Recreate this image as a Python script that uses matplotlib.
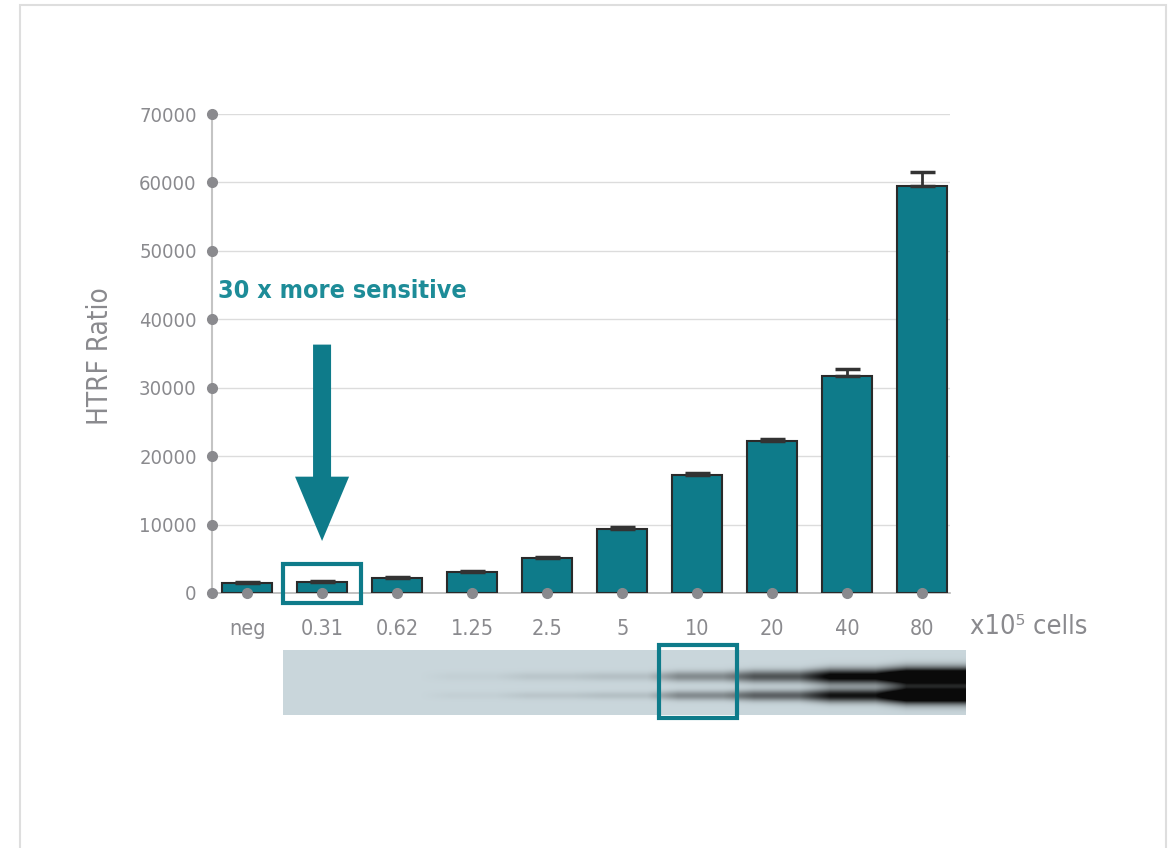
import numpy as np
import matplotlib
matplotlib.use("Agg")
import matplotlib.pyplot as plt
from matplotlib.patches import Rectangle, FancyArrow

categories = ["neg", "0.31", "0.62", "1.25", "2.5", "5", "10", "20", "40", "80"]
htrf_ratio = [1450, 1600, 2200, 3100, 5150, 9400, 17250, 22150, 31700, 59500]
htrf_err = [150, 100, 150, 100, 120, 250, 250, 300, 1000, 2000]
y_ticks = [0, 10000, 20000, 30000, 40000, 50000, 60000, 70000]

# western blot lanes (0.31 .. 80), relative band darkness
gel_lanes = ["0.31", "0.62", "1.25", "2.5", "5", "10", "20", "40", "80"]
upper_band = [0.0, 0.0, 0.02, 0.05, 0.07, 0.24, 0.42, 0.72, 1.0]
lower_band = [0.0, 0.0, 0.02, 0.05, 0.07, 0.24, 0.38, 0.64, 1.0]

TEAL = "#0e7b8a"
TEXT_TEAL = "#1d8c98"
GRAY = "#8a8a8e"
plt.rcParams["font.family"] = ["DejaVu Sans"]
plt.rcParams["font.stretch"] = "condensed"


def main():
    W, H = 1175, 848
    fig = plt.figure(figsize=(W / 100, H / 100), dpi=100)

    # outer frame
    fig.patches.append(Rectangle((20 / W, -0.05), 1146 / W, 1.05 - 5 / H,
                                 transform=fig.transFigure, fill=False,
                                 edgecolor="#dedede", lw=1.5))

    ax = fig.add_axes([212 / W, 1 - 593 / H, 738 / W, 479 / H])
    x = np.arange(len(categories))
    xlim = (-0.467, 9.37)
    ax.set_xlim(*xlim)
    ax.set_ylim(0, 70000)

    ax.bar(x, htrf_ratio, width=0.67, color=TEAL, edgecolor="#2a2a2a", lw=1.5, zorder=3)
    ax.errorbar(x, htrf_ratio, yerr=[[0] * len(x), htrf_err], fmt="none",
                ecolor="#333333", elinewidth=2, capsize=9, capthick=2.5, zorder=4)

    for s in ["top", "right"]:
        ax.spines[s].set_visible(False)
    ax.spines["left"].set_color("#c4c4c4")
    ax.spines["bottom"].set_color("#b8b8b8")
    ax.spines["left"].set_linewidth(1.5)
    ax.spines["bottom"].set_linewidth(1.2)
    ax.set_yticks(y_ticks)
    ax.set_yticklabels([str(t) for t in y_ticks])
    ax.yaxis.grid(True, color="#dcdcdc", lw=1)
    ax.set_axisbelow(True)
    ax.tick_params(axis="y", length=0, pad=11, labelsize=14.5, labelcolor=GRAY)
    ax.set_xticks(x)
    ax.set_xticklabels(categories)
    ax.tick_params(axis="x", length=0, pad=19, labelsize=15.5, labelcolor=GRAY)

    # dot markers on the axes
    ax.plot([xlim[0]] * len(y_ticks), y_ticks, "o", color=GRAY, ms=7, clip_on=False, zorder=5)
    ax.plot(x, [0] * len(x), "o", color=GRAY, ms=7, clip_on=False, zorder=5)

    # highlight around 0.31 bar
    i31 = categories.index("0.31")
    ax.add_patch(Rectangle((i31 - 0.52, -1460), 1.04, 5700, fill=False,
                           edgecolor=TEAL, lw=3, clip_on=False, zorder=6))
    ax.add_patch(FancyArrow(i31, 36300, 0, 7600 - 36300, width=0.24, head_width=0.72,
                            head_length=9400, length_includes_head=True,
                            color=TEAL, lw=0, zorder=6))
    ax.text(-0.39, 44150, "30 x more sensitive", color=TEXT_TEAL, fontsize=18,
            fontweight="bold", va="center", ha="left")

    fig.text(100 / W, 1 - 356 / H, "HTRF Ratio", rotation=90, color=GRAY,
             fontsize=20, ha="center", va="center")
    fig.text(970 / W, 1 - 627 / H, "x10\u2075 cells", color=GRAY, fontsize=19.5,
             ha="left", va="center")

    # gel image
    gax = fig.add_axes([212 / W, 1 - 725 / H, 738 / W, 85 / H])
    gax.set_xlim(*xlim)
    gax.set_ylim(725, 640)
    gax.axis("off")
    x0 = categories.index(gel_lanes[0]) - 0.52
    x1 = x0 + 682 / 75
    ncol, nrow = 682, 65
    lane_w = ncol / len(gel_lanes)
    col_lane = np.minimum((np.arange(ncol) / lane_w).astype(int), len(gel_lanes) - 1)
    kern = np.ones(31) / 31
    pad = 15
    up = np.convolve(np.pad(np.array(upper_band)[col_lane], pad, mode="edge"), kern, mode="same")[pad:-pad]
    lo = np.convolve(np.pad(np.array(lower_band)[col_lane], pad, mode="edge"), kern, mode="same")[pad:-pad]
    rows = np.arange(nrow)[:, None] + 650
    alpha = np.zeros((nrow, ncol))
    for strength, center, base in [(up, 676, 3.0), (lo, 695, 2.6)]:
        sig = base + 3.2 * strength
        alpha += np.clip(1.5 * strength * np.exp(-0.5 * ((rows - center) / sig) ** 2), 0, 1)
    alpha = np.clip(alpha, 0, 1)
    bg = np.array([0.79, 0.84, 0.86])
    img = bg[None, None, :] * (1 - alpha[..., None]) + 0.04 * alpha[..., None]
    im = gax.imshow(img, extent=(x0, x1, 715, 650), aspect="auto", interpolation="bilinear")
    im.set_clip_on(False)
    i10 = categories.index("10")
    gax.add_patch(Rectangle((i10 - 0.51, 645), 1.04, 73, fill=False,
                            edgecolor=TEAL, lw=3, clip_on=False))

    fig.savefig("out.png", dpi=100)


if __name__ == "__main__":
    main()
